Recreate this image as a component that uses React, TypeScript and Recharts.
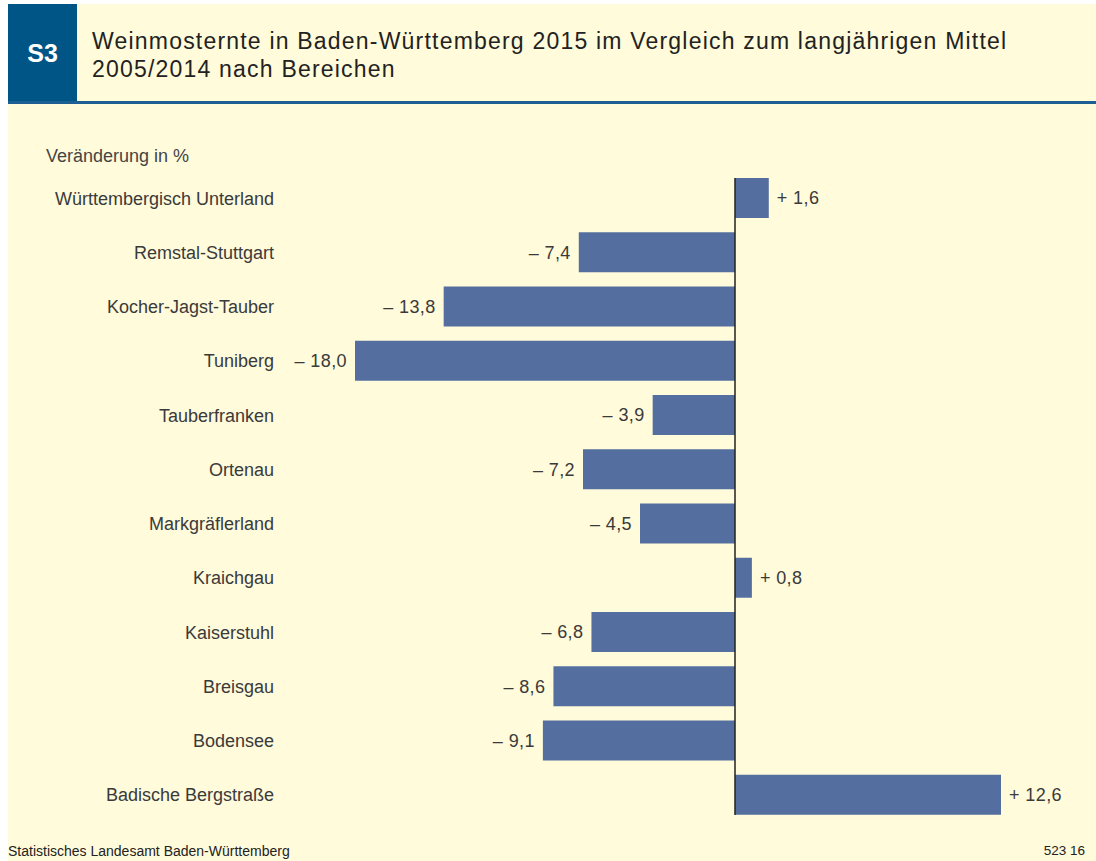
import { Bar, BarChart, LabelList, ReferenceLine, XAxis, YAxis } from 'recharts'

const regions = [
  'Württembergisch Unterland',
  'Remstal-Stuttgart',
  'Kocher-Jagst-Tauber',
  'Tuniberg',
  'Tauberfranken',
  'Ortenau',
  'Markgräflerland',
  'Kraichgau',
  'Kaiserstuhl',
  'Breisgau',
  'Bodensee',
  'Badische Bergstraße',
]

const change = [1.6, -7.4, -13.8, -18.0, -3.9, -7.2, -4.5, 0.8, -6.8, -8.6, -9.1, 12.6]

const data = regions.map((region, i) => ({ region, value: change[i] }))

const font = '"Liberation Sans", Arial, sans-serif'
const bg = '#fffbdb'
const barColor = '#546f9f'
const textColor = '#3a3a3a'

function fmt(v: number) {
  const s = Math.abs(v).toFixed(1).replace('.', ',')
  return (v < 0 ? '\u2013 ' : '+ ') + s
}

function ValueLabel(props: any) {
  const { x, y, width, height, value } = props
  const left = Math.min(x, x + width)
  const right = Math.max(x, x + width)
  const pos = value >= 0
  return (
    <text
      x={pos ? right + 8 : left - 8}
      y={y + height / 2}
      dy="0.35em"
      textAnchor={pos ? 'start' : 'end'}
      fontSize={18}
      letterSpacing={0.4}
      fill={textColor}
      fontFamily={font}
    >
      {fmt(value)}
    </text>
  )
}

export default function App() {
  return (
    <div style={{ position: 'fixed', left: 0, top: 0, width: 1096, height: 861, background: '#fff', fontFamily: font, overflow: 'hidden' }}>
      {/* header */}
      <div style={{ position: 'absolute', left: 8, top: 4, width: 69, height: 98, background: '#005587', color: '#fff', fontWeight: 700, fontSize: 25, display: 'flex', alignItems: 'center', justifyContent: 'center' }}>
        S3
      </div>
      <div style={{ position: 'absolute', left: 77, top: 4, width: 1019, height: 98, background: bg }}>
        <div style={{ position: 'absolute', left: 15, top: 23, fontSize: 23, lineHeight: '28px', letterSpacing: 1.2, color: '#222' }}>
          Weinmosternte in Baden-Württemberg 2015 im Vergleich zum langjährigen Mittel
          <br />
          2005/2014 nach Bereichen
        </div>
      </div>
      <div style={{ position: 'absolute', left: 8, top: 101, width: 1088, height: 3, background: '#1d5f93' }} />
      <div style={{ position: 'absolute', left: 8, top: 104, width: 1088, height: 757, background: bg }} />

      <div style={{ position: 'absolute', left: 46, top: 146, fontSize: 18, color: '#444' }}>Veränderung in %</div>

      <div style={{ position: 'absolute', left: 0, top: 0 }}>
        <BarChart
          width={1096}
          height={861}
          data={data}
          layout="vertical"
          margin={{ top: 178, right: 95, bottom: 46, left: 0 }}
          barSize={40}
        >
          <XAxis type="number" domain={[-18, 12.6]} hide />
          <YAxis
            type="category"
            dataKey="region"
            width={355}
            axisLine={false}
            tickLine={false}
            tickSize={0}
            tickMargin={81}
            padding={{ top: -7, bottom: -7 }}
            tick={{ fontSize: 18, fill: textColor, fontFamily: font }}
            interval={0}
          />
          <Bar dataKey="value" fill={barColor} isAnimationActive={false}>
            <LabelList dataKey="value" content={ValueLabel} />
          </Bar>
          <ReferenceLine x={0} stroke="#222" strokeWidth={1.5} />
        </BarChart>
      </div>

      <div style={{ position: 'absolute', left: 8, top: 843, fontSize: 14, lineHeight: '16px', color: '#222' }}>Statistisches Landesamt Baden-Württemberg</div>
      <div style={{ position: 'absolute', right: 11, top: 843, fontSize: 13.5, lineHeight: '16px', color: '#222' }}>523 16</div>
    </div>
  )
}
